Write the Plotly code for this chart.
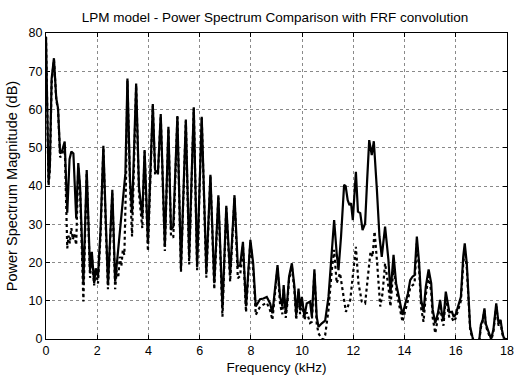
import plotly.graph_objects as go

# Solid line: LPM model power spectrum (kHz, dB)
solid_freq = [0.00, 0.05, 0.10, 0.15, 0.22, 0.31, 0.40, 0.47, 0.55, 0.62, 0.73, 0.83, 0.92, 0.99,
              1.07, 1.18, 1.26, 1.33, 1.46, 1.59, 1.66, 1.72, 1.79, 1.88, 1.94, 2.03, 2.13, 2.24,
              2.33, 2.42, 2.59, 2.70, 3.10, 3.18, 3.28, 3.36, 3.52, 3.63, 3.76, 3.85, 3.98, 4.17,
              4.26, 4.37, 4.48, 4.64, 4.78, 4.88, 4.97, 5.13, 5.27, 5.46, 5.59, 5.77, 5.90, 6.08,
              6.26, 6.42, 6.57, 6.73, 6.89, 7.04, 7.19, 7.36, 7.49, 7.58, 7.69, 7.81, 7.98, 8.09,
              8.19, 8.36, 8.49, 8.62, 8.75, 8.84, 9.04, 9.14, 9.23, 9.28, 9.36, 9.42, 9.49, 9.60,
              9.70, 9.77, 9.86, 9.92, 9.99, 10.09, 10.18, 10.31, 10.38, 10.48, 10.57, 10.64, 10.77,
              10.90, 11.03, 11.16, 11.25, 11.35, 11.42, 11.52, 11.64, 11.70, 11.78, 11.85, 11.91,
              11.98, 12.10, 12.18, 12.27, 12.36, 12.46, 12.54, 12.62, 12.72, 12.80, 12.92, 13.02,
              13.11, 13.24, 13.37, 13.45, 13.57, 13.67, 13.83, 13.92, 14.03, 14.13, 14.22, 14.31,
              14.39, 14.48, 14.57, 14.65, 14.74, 14.83, 14.94, 15.04, 15.10, 15.20, 15.30, 15.39,
              15.46, 15.52, 15.61, 15.69, 15.75, 15.85, 15.92, 16.00, 16.11, 16.20, 16.29, 16.35,
              16.43, 16.50, 16.56, 16.65, 16.76, 16.89, 16.98, 17.05, 17.12, 17.17, 17.28, 17.38,
              17.47, 17.58, 17.67, 17.75, 17.80, 17.86, 17.92, 18.00]
solid_db = [79, 55, 41, 45, 68, 73.4, 63, 60.3, 48.5, 49, 51.6, 33, 47, 49,
            48.5, 31.5, 46, 40, 14.5, 44.2, 30, 18, 22.8, 14.5, 18.5, 16.3, 28.5, 50.5,
            32, 14.1, 39, 15, 43.3, 68.1, 41.6, 32.9, 66.8, 39.8, 32, 49.4, 25, 61.4,
            44.2, 43.3, 58.8, 24.1, 55.5, 28.5, 29.4, 58.3, 18.5, 57.4, 21.5, 60.6, 18.9, 58.1,
            17.6, 42.9, 14.6, 37.6, 8, 34.8, 16.7, 37.6, 18.9, 19.3, 25.4, 8.5, 25.9, 19.8,
            8.5, 10.4, 10.6, 11, 9.3, 6.7, 19.3, 11, 8.5, 14.1, 6.7, 10, 16.3, 19.8,
            13.7, 6.3, 13.2, 7.6, 11, 5.8, 9.3, 9.8, 5.8, 18.2, 5.8, 3.2, 4.1,
            4.8, 11, 21.5, 31.1, 22.4, 18, 26.8, 40.3, 40, 36.3, 35, 35.5,
            31.1, 43.7, 33.3, 32.9, 28.5, 30.2, 41.6, 52, 48.1, 51.7, 39, 26.8,
            21.5, 29.4, 20.7, 11.9, 22, 14.6, 9.3, 6.3, 9.3, 11.9, 15.4, 16.3,
            16.7, 26.8, 19.8, 10.2, 7.1, 13.7, 18.2, 14.6, 7.6, 4.1, 6.7, 10.2,
            6.5, 5, 12.4, 9.3, 7, 7.1, 5.8, 6.5, 9.3, 11, 21.5, 25,
            19.8, 8.5, 3.2, 0.6, -2, -2, 3.7, 5, 8, 4, 1.9, 0,
            2.5, 9.3, 4.1, 5, 2.5, 0.6, 0, 0]

# Dotted line: with FRF convolution (kHz, dB)
dotted_freq = [0.00, 0.05, 0.10, 0.15, 0.22, 0.31, 0.40, 0.47, 0.55, 0.62, 0.73, 0.83, 0.88, 0.93,
               0.99, 1.05, 1.10, 1.18, 1.26, 1.33, 1.46, 1.59, 1.66, 1.72, 1.79, 1.88, 1.94, 2.03,
               2.13, 2.24, 2.33, 2.42, 2.59, 2.70, 2.76, 2.82, 2.88, 2.94, 3.00, 3.06, 3.12, 3.18,
               3.28, 3.36, 3.52, 3.63, 3.76, 3.85, 3.98, 4.17, 4.26, 4.37, 4.48, 4.64, 4.78, 4.88,
               4.97, 5.13, 5.27, 5.46, 5.59, 5.77, 5.90, 6.08, 6.26, 6.42, 6.57, 6.73, 6.89, 7.04,
               7.19, 7.36, 7.49, 7.58, 7.69, 7.81, 7.98, 8.09, 8.19, 8.36, 8.49, 8.62, 8.75, 8.84,
               9.04, 9.14, 9.23, 9.28, 9.36, 9.42, 9.49, 9.60, 9.70, 9.77, 9.86, 9.92, 9.99, 10.09,
               10.18, 10.31, 10.38, 10.48, 10.57, 10.64, 10.77, 10.83, 10.90, 11.03, 11.16, 11.25,
               11.35, 11.48, 11.58, 11.71, 11.88, 12.01, 12.10, 12.20, 12.33, 12.46, 12.59, 12.67,
               12.75, 12.83, 12.93, 13.05, 13.14, 13.24, 13.37, 13.45, 13.57, 13.70, 13.83, 13.92,
               14.03, 14.13, 14.22, 14.31, 14.39, 14.48, 14.57, 14.65, 14.74, 14.83, 14.94, 15.04,
               15.10, 15.20, 15.30, 15.39, 15.46, 15.52, 15.61, 15.69, 15.75, 15.85, 15.92, 16.00,
               16.11, 16.20, 16.29, 16.35, 16.43, 16.50, 16.56, 16.65, 16.76, 16.89, 16.98, 17.05,
               17.12, 17.17, 17.28, 17.38, 17.47, 17.58, 17.67, 17.75, 17.80, 17.86, 17.92, 18.00]
dotted_db = [79, 55, 40, 44, 67, 73, 62.5, 60, 47.5, 48, 51, 23.7, 27, 25,
             29, 26, 27.5, 24.6, 45, 39, 9.8, 43.5, 28, 16, 22, 14, 18, 14.5,
             27, 50, 30, 13, 38, 13, 18, 16, 21.5, 19, 23.3, 22, 40, 67.5,
             40, 26.8, 66.3, 38, 29, 49, 23, 61, 43, 43, 58.3, 23, 55, 27,
             26.5, 58, 17.5, 57, 19.5, 60.3, 18, 57.8, 16, 42.5, 13, 37, 5.8, 34.3,
             15, 37, 15.9, 16.5, 24.5, 7, 25.5, 18, 6.3, 8.5, 9, 9.5, 7.5, 5,
             18.5, 9, 6.5, 13, 5.5, 9, 15.5, 19, 12.5, 5, 12.5, 6.5, 10, 5,
             7, 4.2, 4.5, 17.5, 4, 1.5, 0, 0, 1, 7.6, 18, 23.3,
             14.6, 17.2, 12.8, 7.1, 10.2, 18, 24.1, 14.6, 9.8, 9.3, 17.2, 22.8,
             21.5, 28.1, 19.8, 8.5, 11.9, 19.8, 13.7, 8.5, 18.9, 11.9, 7.5, 4.5,
             7.5, 10, 13.5, 14, 14.5, 25, 18, 8, 4.5, 11.5, 16.5, 12.5,
             5.5, 1.5, 5, 9, 5, 3.5, 11, 7.5, 5.5, 5.5, 4.5, 5.5,
             8, 10, 19.5, 23.5, 18.5, 7.5, 2.5, 0, -2, -2, 3, 4.5,
             7.5, 3.5, 1.5, -0.5, 2, 8.5, 3.5, 4.5, 2, 0, -0.5, 0]

x_ticks = [0, 2, 4, 6, 8, 10, 12, 14, 16, 18]
y_ticks = [0, 10, 20, 30, 40, 50, 60, 70, 80]

FONT = "Liberation Sans, Arial, sans-serif"

fig = go.Figure()
fig.add_trace(go.Scatter(x=solid_freq, y=solid_db, mode="lines",
                         line=dict(color="black", width=2.2), showlegend=False))
fig.add_trace(go.Scatter(x=dotted_freq, y=dotted_db, mode="lines",
                         line=dict(color="black", width=2.2, dash="dot"), showlegend=False))

axis_common = dict(showline=True, linecolor="black", linewidth=1, mirror="ticks",
                   ticks="inside", ticklen=4, tickcolor="black", automargin=False,
                   showgrid=True, gridcolor="#8a8a8a", gridwidth=1, griddash="dot",
                   zeroline=False, tickfont=dict(family=FONT, size=12.5, color="black"))

fig.update_layout(
    width=515, height=376,
    margin=dict(l=46, r=8, t=33, b=37),
    paper_bgcolor="white", plot_bgcolor="white",
    title=dict(text="LPM model - Power Spectrum Comparison with FRF convolution",
               x=0.534, xanchor="center", y=0.955, yanchor="middle",
               font=dict(family=FONT, size=13.5, color="black")),
    xaxis=dict(range=[0, 18], tickvals=x_ticks,
               title=dict(text="Frequency (kHz)", standoff=5,
                          font=dict(family=FONT, size=13.5, color="black")),
               **axis_common),
    yaxis=dict(range=[0, 80], tickvals=y_ticks,
               title=dict(text="Power Spectrum Magnitude (dB)", standoff=7,
                          font=dict(family=FONT, size=14.5, color="black")),
               **axis_common),
)

# Remove the default page margin so the figure fills the 515x376 window exactly.
fig.write_html("out.html",
               config={"displayModeBar": False},
               post_script="document.body.style.margin='0';document.body.style.overflow='hidden';")
